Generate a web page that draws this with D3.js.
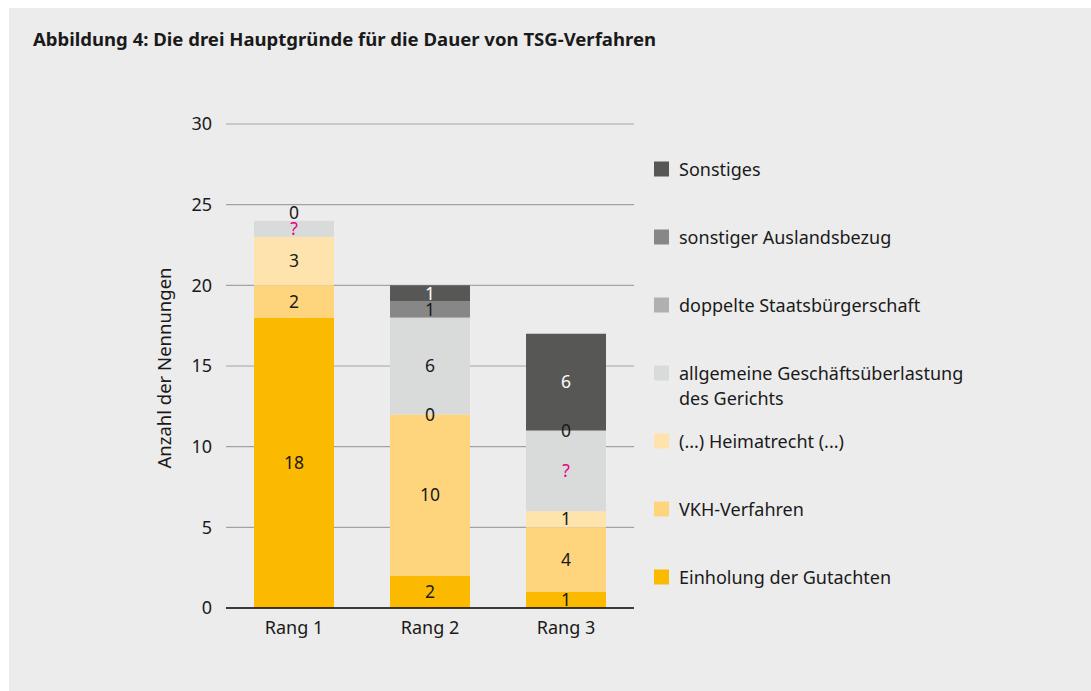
<!DOCTYPE html>
<html>
<head>
<meta charset="utf-8">
<script src="https://cdn.jsdelivr.net/npm/d3@7"></script>
<style>
  html, body { margin: 0; padding: 0; background: #fff; }
  svg { display: block; font-family: "Noto Sans", sans-serif; }
</style>
</head>
<body>
<div id="chart"></div>
<script>

// categories and series (bottom to top of each stack)
var categories = ["Rang 1", "Rang 2", "Rang 3"]

var seriesNames = [
	"Einholung der Gutachten",
	"VKH-Verfahren",
	"(...) Heimatrecht (...)",
	"allgemeine Geschäftsüberlastung des Gerichts",
	"doppelte Staatsbürgerschaft",
	"sonstiger Auslandsbezug",
	"Sonstiges"
]

// values per series, one per Rang (null = not mentioned)
var gutachten   = [18, 2, 1]
var vkh         = [2, 10, 4]
var heimatrecht = [3, 0, 1]
var allgemeine  = [1, 6, 5]
var doppelte    = [0, null, 0]
var auslandsbezug = [null, 1, null]
var sonstiges   = [null, 1, 6]

// labels as printed in the figure
var allgemeineLabels = ["?", "6", "?"]

var yTicks = [0, 5, 10, 15, 20, 25, 30]

var colors = ["#fbb900", "#fed57c", "#fee3ad", "#d9dbda", "#b0b0b0", "#878787", "#575756"]

var legendOrder = [6, 5, 4, 3, 2, 1, 0]


var width = 1091
var height = 691

var svg = d3.select("#chart")
	.append("svg")
	.attr("width", width)
	.attr("height", height)

// panel
svg.append("rect")
	.attr("x", 9)
	.attr("y", 8)
	.attr("width", width - 9)
	.attr("height", height - 8)
	.attr("fill", "#ececec")

svg.append("text")
	.attr("x", 33)
	.attr("y", 46)
	.attr("font-size", "17px")
	.attr("font-weight", "bold")
	.attr("fill", "#1a1a1a")
	.attr("textLength", 623)
	.attr("lengthAdjust", "spacingAndGlyphs")
	.text("Abbildung 4: Die drei Hauptgründe für die Dauer von TSG-Verfahren")

var xScale = d3.scaleBand()
	.domain(categories)
	.range([226, 634])
	.paddingInner(0.412)
	.paddingOuter(0.206)

var yScale = d3.scaleLinear()
	.domain([0, 30])
	.range([608, 124])

// gridlines
svg.selectAll(".grid")
	.data(yTicks.filter(function(d) { return d > 0 }))
	.enter()
	.append("line")
	.attr("x1", 226)
	.attr("x2", 634)
	.attr("y1", function(d) { return yScale(d) })
	.attr("y2", function(d) { return yScale(d) })
	.attr("stroke", "#a3a3a3")
	.attr("stroke-width", 1.2)

// y axis labels
var yAxis = d3.axisLeft(yScale)
	.tickValues(yTicks)
	.tickSize(0)
	.tickPadding(14)

var gy = svg.append("g")
	.attr("transform", "translate(226,0)")
	.call(yAxis)

gy.select(".domain").remove()
gy.selectAll("text")
	.attr("font-family", "Noto Sans, sans-serif")
	.attr("font-size", "18px")
	.attr("fill", "#1a1a1a")

svg.append("text")
	.attr("transform", "translate(171,368) rotate(-90)")
	.attr("text-anchor", "middle")
	.attr("font-size", "18.5px")
	.attr("fill", "#1a1a1a")
	.text("Anzahl der Nennungen")

// stacked data
var series = [gutachten, vkh, heimatrecht, allgemeine, doppelte, auslandsbezug, sonstiges]

var segments = []

categories.forEach(function(cat, i) {

	var base = 0

	series.forEach(function(values, s) {

		var v = values[i]

		if (v === null) return

		var label = (s === 3) ? allgemeineLabels[i] : String(v)

		segments.push({ cat: cat, series: s, y0: base, y1: base + v, label: label, top: i === 0 && s === 4 })

		base += v

	})

})

svg.selectAll(".bar")
	.data(segments.filter(function(d) { return d.y1 > d.y0 }))
	.enter()
	.append("rect")
	.attr("x", function(d) { return xScale(d.cat) })
	.attr("y", function(d) { return yScale(d.y1) })
	.attr("width", xScale.bandwidth())
	.attr("height", function(d) { return yScale(d.y0) - yScale(d.y1) })
	.attr("fill", function(d) { return colors[d.series] })

// baseline
svg.append("line")
	.attr("x1", 226)
	.attr("x2", 634)
	.attr("y1", yScale(0))
	.attr("y2", yScale(0))
	.attr("stroke", "#000")
	.attr("stroke-width", 1.5)

// segment labels
svg.selectAll(".value")
	.data(segments)
	.enter()
	.append("text")
	.attr("x", function(d) { return xScale(d.cat) + xScale.bandwidth() / 2 })
	.attr("y", function(d) { return yScale((d.y0 + d.y1) / 2) + (d.top ? -8 : 0) })
	.attr("dy", "0.35em")
	.attr("text-anchor", "middle")
	.attr("font-size", "17.5px")
	.attr("fill", function(d) {
		if (d.label === "?") return "#e6007e"
		return d.series === 6 ? "#ffffff" : "#1a1a1a"
	})
	.text(function(d) { return d.label })

// x axis labels
var xAxis = d3.axisBottom(xScale)
	.tickSize(0)
	.tickPadding(13)

var gx = svg.append("g")
	.attr("transform", "translate(0," + yScale(0) + ")")
	.call(xAxis)

gx.select(".domain").remove()
gx.selectAll("text")
	.attr("font-family", "Noto Sans, sans-serif")
	.attr("font-size", "18px")
	.attr("fill", "#1a1a1a")

// legend
var legend = svg.selectAll(".legend")
	.data(legendOrder)
	.enter()
	.append("g")
	.attr("transform", function(d, i) { return "translate(654," + (169 + i * 68) + ")" })

legend.append("rect")
	.attr("x", 0)
	.attr("y", -7.5)
	.attr("width", 15)
	.attr("height", 15)
	.attr("fill", function(d) { return colors[d] })

legend.append("text")
	.attr("x", 25)
	.attr("y", 6.5)
	.attr("font-size", "18px")
	.attr("fill", "#1a1a1a")
	.each(function(d) {
		var name = seriesNames[d]
		var t = d3.select(this)
		if (d === 3) {
			t.append("tspan").attr("x", 25).text("allgemeine Geschäftsüberlastung")
			t.append("tspan").attr("x", 25).attr("dy", 25).text("des Gerichts")
		} else {
			t.text(name)
		}
	})

</script>
</body>
</html>
